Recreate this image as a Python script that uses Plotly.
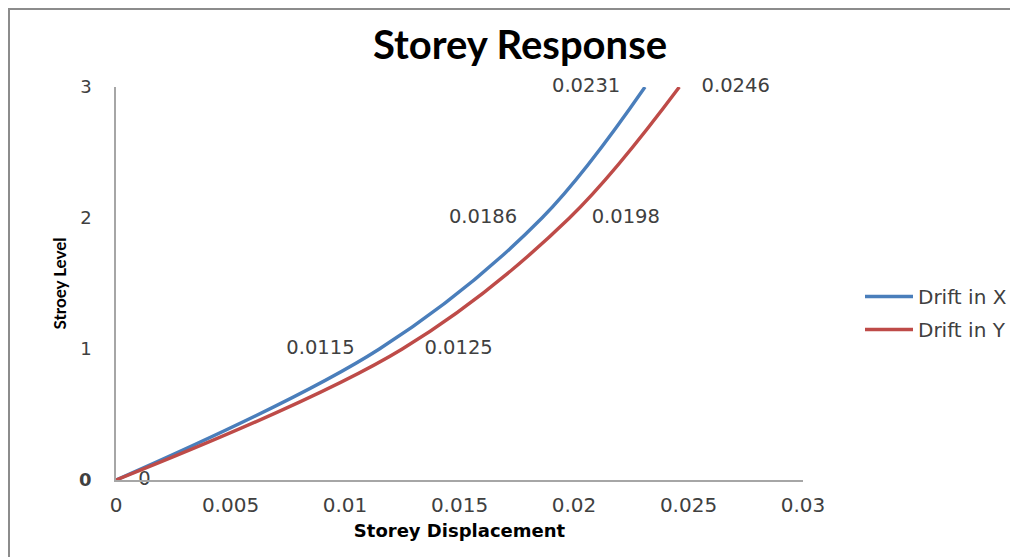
import plotly.graph_objects as go

# Data
storey_levels = [0, 1, 2, 3]
drift_x = [0, 0.0115, 0.0186, 0.0231]
drift_y = [0, 0.0125, 0.0198, 0.0246]
label_x = ["", "0.0115", "0.0186", "0.0231"]
label_y = ["0", "0.0125", "0.0198", "0.0246"]
x_tick_vals = [0, 0.005, 0.01, 0.015, 0.02, 0.025, 0.03]
x_tick_text = ["0", "0.005", "0.01", "0.015", "0.02", "0.025", "0.03"]
y_tick_vals = [0, 1, 2, 3]
y_tick_text = ["<b>0</b>", "1", "2", "3"]

BLUE = "#4A7EBB"
RED = "#BE4B48"
TXT = "#404040"
LABEL_FONT = dict(family="DejaVu Sans", size=19.5, color=TXT)

fig = go.Figure()
fig.add_trace(go.Scatter(x=drift_x, y=storey_levels, mode="lines", name="Drift in X",
                         legendgroup="x",
                         line=dict(color=BLUE, width=3.4, shape="spline", smoothing=1.0)))
fig.add_trace(go.Scatter(x=drift_y, y=storey_levels, mode="lines", name="Drift in Y",
                         legendgroup="y",
                         line=dict(color=RED, width=3.4, shape="spline", smoothing=1.0)))
# data labels (transparent markers provide the offset)
fig.add_trace(go.Scatter(x=drift_x, y=storey_levels, mode="markers+text", text=label_x,
                         textposition="middle left", textfont=LABEL_FONT, showlegend=False,
                         marker=dict(size=38, color="rgba(0,0,0,0)"), hoverinfo="skip",
                         cliponaxis=False))
fig.add_trace(go.Scatter(x=drift_y, y=storey_levels, mode="markers+text", text=label_y,
                         textposition="middle right", textfont=LABEL_FONT, showlegend=False,
                         marker=dict(size=34, color="rgba(0,0,0,0)"), hoverinfo="skip",
                         cliponaxis=False))

# page body has an 8px margin; work in screenshot pixel coordinates
OFF = 8
W, H = 1018 - OFF, 557 - OFF
L, T = 116 - OFF, 87 - OFF
R = W - (803 - OFF)
B = H - (480 - OFF)
pw, ph = W - L - R, H - T - B

def px2paper_x(px):
    return (px - OFF - L) / pw

def px2paper_y(py):
    return (H - B - (py - OFF)) / ph

fig.update_layout(
    width=W, height=H,
    margin=dict(l=L, r=R, t=T, b=B, autoexpand=False),
    paper_bgcolor="white", plot_bgcolor="white",
    title=dict(text="<b>Storey Response</b>", x=(520 - OFF) / W, xanchor="center",
               y=1 - (45 - OFF) / H, yanchor="middle",
               font=dict(family="Lato", size=40, color="black")),
    xaxis=dict(range=[0, 0.03], tickvals=x_tick_vals, ticktext=x_tick_text,
               showgrid=False, zeroline=False, showline=True, linecolor="#A6A6A6",
               linewidth=1.5, ticks="", ticklabelstandoff=6,
               tickfont=dict(family="DejaVu Sans", size=20, color=TXT),
               title=dict(text="<b>Storey Displacement</b>", standoff=9,
                          font=dict(family="DejaVu Sans", size=18, color="black"))),
    yaxis=dict(range=[0, 3], tickvals=y_tick_vals, ticktext=y_tick_text,
               showgrid=False, zeroline=False, showline=True, linecolor="#A6A6A6",
               linewidth=1.5, ticks="", ticklabelstandoff=19,
               tickfont=dict(family="DejaVu Sans", size=18, color=TXT),
               title=dict(text="<b>Stroey Level</b>", standoff=8,
                          font=dict(family="Lato", size=17, color="black"))),
    legend=dict(x=px2paper_x(860), y=px2paper_y(313), xanchor="left", yanchor="middle",
                font=dict(family="DejaVu Sans", size=20, color=TXT),
                itemwidth=48, tracegroupgap=4, bgcolor="rgba(0,0,0,0)"),
    shapes=[
        dict(type="line", xref="paper", yref="paper", x0=px2paper_x(9), x1=px2paper_x(9),
             y0=px2paper_y(9), y1=px2paper_y(560), line=dict(color="#8C8C8C", width=2)),
        dict(type="line", xref="paper", yref="paper", x0=px2paper_x(4), x1=px2paper_x(1020),
             y0=px2paper_y(9), y1=px2paper_y(9), line=dict(color="#8C8C8C", width=2)),
    ],
)

fig.write_html("out.html")
